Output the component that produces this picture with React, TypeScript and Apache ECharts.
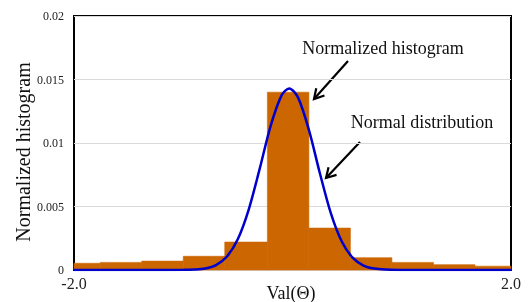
import React, { useEffect, useRef } from "react";
import * as echarts from "echarts";

// Histogram bins: left edge, right edge, normalized height
const binLeft = [-2.0, -1.76, -1.38, -1.0, -0.62, -0.23, 0.15, 0.53, 0.91, 1.29, 1.67];
const binRight = [-1.76, -1.38, -1.0, -0.62, -0.23, 0.15, 0.53, 0.91, 1.29, 1.67, 2.0];
const binHeight = [0.00053, 0.0006, 0.0007, 0.00108, 0.0022, 0.014, 0.0033, 0.00097, 0.0006, 0.00042, 0.0003];

// Normal distribution curve points
const curveX = [-2.0, -1.2, -1.0, -0.9, -0.8, -0.7, -0.6, -0.5, -0.4, -0.3, -0.2, -0.1, -0.03, 0.05, 0.15, 0.25, 0.35, 0.45, 0.55, 0.65, 0.75, 0.85, 1.0, 1.2, 2.0];
const curveY = [0, 0, 0.00001, 0.00004, 0.000125, 0.00039, 0.00106, 0.00244, 0.00478, 0.00798, 0.01135, 0.01375, 0.0143, 0.01359, 0.01104, 0.00764, 0.0045, 0.00226, 0.00097, 0.00035, 0.00011, 0.00003, 0.000005, 0, 0];

const xTicks = [-2.0, 2.0];
const yTicks = [0, 0.005, 0.01, 0.015, 0.02];

const SERIF = "Liberation Serif";
const W = 529;
const H = 302;
const G = { left: 74, right: 18, top: 16, bottom: 32 };

function arrow(x1: number, y1: number, x2: number, y2: number) {
  const dx = x1 - x2;
  const dy = y1 - y2;
  const len = Math.sqrt(dx * dx + dy * dy);
  const ux = dx / len;
  const uy = dy / len;
  const c = Math.cos(Math.PI / 6);
  const s = Math.sin(Math.PI / 6);
  const L = 11;
  const a = [x2 + L * (ux * c - uy * s), y2 + L * (ux * s + uy * c)];
  const b = [x2 + L * (ux * c + uy * s), y2 + L * (-ux * s + uy * c)];
  return [
    { type: "line", shape: { x1, y1, x2, y2 }, style: { stroke: "#000", lineWidth: 2.2 } },
    { type: "polyline", shape: { points: [a, [x2, y2], b] }, style: { stroke: "#000", lineWidth: 2.2, fill: null } },
  ];
}

function label(text: string, x: number, y: number, size: number, rotation = 0) {
  return {
    type: "text",
    x,
    y,
    rotation,
    style: {
      text,
      fontFamily: SERIF,
      fontSize: size,
      fill: "#111",
      align: "center",
      verticalAlign: "middle",
    },
  };
}

export default function App() {
  const ref = useRef<HTMLDivElement>(null);
  useEffect(() => {
    if (!ref.current) return;
    const chart = echarts.init(ref.current, undefined, { renderer: "svg" });
    const bins = binLeft.map((l, i) => [l, binRight[i], binHeight[i]]);
    const curve = curveX.map((x, i) => [x, curveY[i]]);
    const x0 = G.left;
    const y0 = G.top;
    const x1 = W - G.right;
    const y1 = H - G.bottom;
    chart.setOption({
      animation: false,
      grid: { ...G, show: true, borderColor: "#000", borderWidth: 2, backgroundColor: "rgba(0,0,0,0)" },
      xAxis: {
        type: "value",
        min: xTicks[0],
        max: xTicks[xTicks.length - 1],
        interval: xTicks[1] - xTicks[0],
        axisLine: { show: false },
        axisTick: { show: false },
        splitLine: { show: false },
        axisLabel: {
          showMinLabel: true,
          showMaxLabel: true,
          margin: 5,
          fontFamily: SERIF,
          fontSize: 16,
          color: "#222",
          formatter: (v: number) => v.toFixed(1),
        },
      },
      yAxis: {
        type: "value",
        min: yTicks[0],
        max: yTicks[yTicks.length - 1],
        interval: yTicks[1] - yTicks[0],
        axisLine: { show: false },
        axisTick: { show: false },
        splitLine: { show: true, lineStyle: { color: "#d9d9d9", width: 1 } },
        axisLabel: {
          margin: 10,
          fontFamily: SERIF,
          fontSize: 12,
          color: "#222",
          formatter: (v: number) => String(parseFloat(v.toFixed(4))),
        },
      },
      series: [
        {
          type: "custom",
          data: bins,
          encode: { x: [0, 1], y: 2 },
          renderItem: (params: any, api: any) => {
            const p0 = api.coord([api.value(0), api.value(2)]);
            const p1 = api.coord([api.value(1), 0]);
            return {
              type: "rect",
              shape: { x: p0[0], y: p0[1], width: p1[0] - p0[0], height: p1[1] - p0[1] },
              style: { fill: "#CC6600", stroke: "#CC6600", lineWidth: 0.6 },
            };
          },
        },
        {
          type: "line",
          data: curve,
          smooth: 0.3,
          showSymbol: false,
          lineStyle: { color: "#0000CC", width: 2.5 },
          itemStyle: { color: "#0000CC" },
        },
      ],
      graphic: [
        label("Normalized histogram", 23, 152, 20, Math.PI / 2),
        label("Val(Θ)", 291, 293, 18),
        label("Normalized histogram", 383, 48, 18),
        label("Normal distribution", 422, 122, 18),
        ...arrow(348, 61, 314, 99),
        ...arrow(360, 142, 326, 178),
        { type: "line", shape: { x1: x0, y1: y0, x2: x1, y2: y0 }, style: { stroke: "#000", lineWidth: 2 } },
        { type: "line", shape: { x1: x0, y1: y0, x2: x0, y2: y1 }, style: { stroke: "#000", lineWidth: 2 } },
        { type: "line", shape: { x1: x1, y1: y0, x2: x1, y2: y1 }, style: { stroke: "#000", lineWidth: 2 } },
      ],
    });
    return () => chart.dispose();
  }, []);
  return <div ref={ref} style={{ position: "fixed", left: 0, top: 0, width: W, height: H }} />;
}
